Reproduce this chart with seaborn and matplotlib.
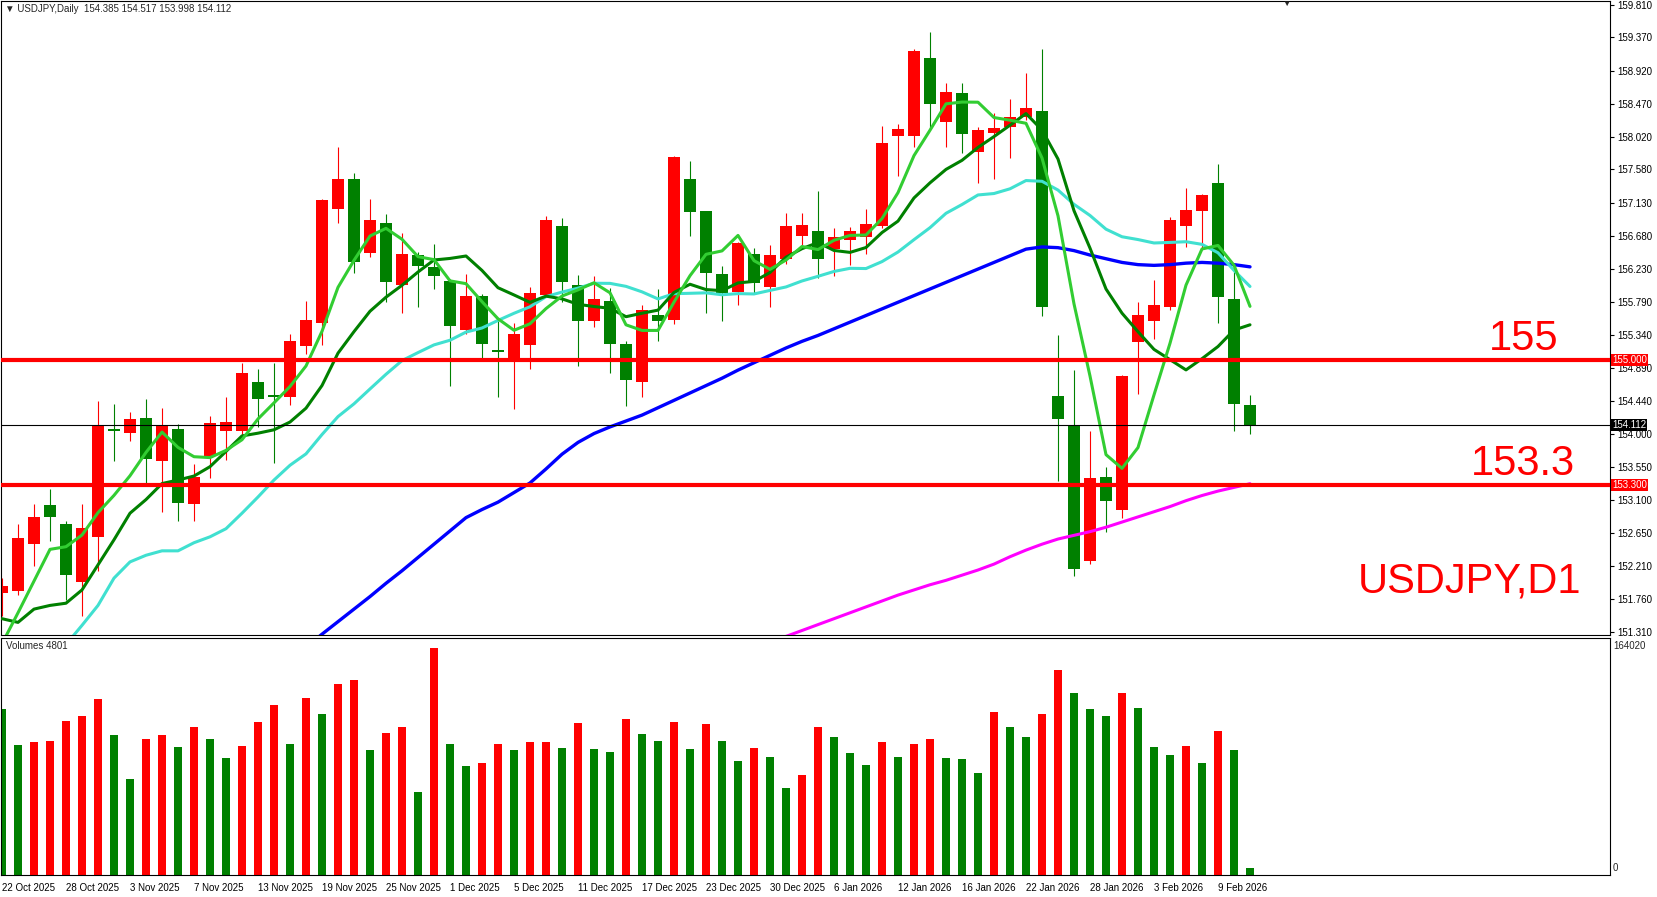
import numpy as np
import pandas as pd
import matplotlib
matplotlib.use("Agg")
import matplotlib.pyplot as plt
import matplotlib.transforms as mtransforms
import seaborn as sns

# USDJPY daily bars, 22 Oct 2025 .. 11 Feb 2026
opens = [151.84, 151.87, 152.50, 153.03, 152.78, 151.99, 152.60, 154.06, 154.01, 154.21,
         153.63, 154.06, 153.05, 153.70, 154.04, 154.03, 154.70, 154.52, 154.49, 155.19,
         155.50, 157.04, 157.45, 156.45, 156.85, 156.01, 156.42, 156.26, 156.07, 155.40,
         155.86, 155.13, 155.02, 155.20, 155.88, 156.81, 156.01, 155.52, 155.80, 155.22,
         154.70, 155.61, 155.54, 157.45, 157.02, 156.16, 155.92, 156.44, 155.99, 156.36,
         156.68, 156.75, 156.50, 156.62, 156.66, 156.81, 158.03, 158.04, 159.09, 158.22,
         158.62, 157.82, 158.08, 158.16, 158.29, 158.37, 154.51, 154.12, 152.27, 153.41,
         152.97, 155.24, 155.53, 155.72, 156.81, 157.02, 157.39, 155.83, 154.385]
highs = [152.04, 152.78, 153.05, 153.25, 152.81, 153.05, 154.44, 154.40, 154.29, 154.47,
         154.35, 154.13, 153.59, 154.24, 154.49, 154.96, 154.88, 154.96, 155.35, 155.80,
         157.18, 157.89, 157.53, 157.18, 156.98, 156.72, 156.46, 156.57, 156.10, 156.16,
         155.89, 155.54, 155.50, 155.98, 156.95, 156.92, 156.15, 156.13, 155.97, 155.25,
         155.74, 155.96, 157.76, 157.70, 157.02, 156.27, 156.60, 156.51, 156.56, 156.99,
         156.99, 157.29, 156.78, 156.80, 157.05, 158.17, 158.20, 159.22, 159.45, 158.75,
         158.75, 158.15, 158.35, 158.53, 158.89, 159.22, 155.33, 154.86, 154.04, 153.54,
         154.79, 155.78, 156.08, 156.94, 157.33, 157.25, 157.66, 156.22, 154.517]
lows = [151.52, 151.81, 152.20, 152.54, 151.74, 151.52, 152.14, 153.63, 153.90, 153.33,
        152.94, 152.82, 152.81, 153.40, 153.64, 153.95, 154.09, 153.60, 154.39, 155.08,
        155.20, 156.86, 156.18, 156.40, 155.79, 155.64, 155.71, 155.96, 154.65, 155.35,
        155.02, 154.49, 154.33, 154.88, 155.85, 155.79, 154.92, 155.44, 154.82, 154.38,
        154.50, 155.26, 155.49, 156.68, 155.64, 155.53, 155.74, 155.90, 155.72, 156.30,
        156.55, 156.11, 156.14, 156.28, 156.44, 156.78, 157.49, 157.89, 158.14, 157.89,
        157.81, 157.40, 157.45, 157.73, 158.25, 155.60, 153.35, 152.07, 152.23, 152.67,
        152.85, 154.54, 155.28, 155.68, 156.53, 156.52, 155.50, 154.04, 153.998]
closes = [151.93, 152.58, 152.87, 152.87, 152.08, 152.72, 154.10, 154.04, 154.20, 153.66,
          154.10, 153.06, 153.41, 154.14, 154.15, 154.82, 154.47, 154.50, 155.25, 155.54,
          157.17, 157.45, 156.33, 156.90, 156.06, 156.43, 156.27, 156.13, 155.46, 155.87,
          155.21, 155.11, 155.35, 155.90, 156.90, 156.06, 155.53, 155.83, 155.22, 154.73,
          155.68, 155.53, 157.75, 157.01, 156.18, 155.91, 156.58, 156.04, 156.42, 156.81,
          156.83, 156.37, 156.67, 156.75, 156.84, 157.94, 158.13, 159.18, 158.47, 158.63,
          158.06, 158.12, 158.14, 158.29, 158.42, 155.71, 154.20, 152.17, 153.40, 153.09,
          154.78, 155.61, 155.74, 156.90, 157.03, 157.23, 155.85, 154.40, 154.112]
volumes = [114800, 90200, 91700, 92400, 106600, 110300, 121500, 96900, 66400, 93900,
           96900, 88700, 102100, 93900, 81300, 89500, 105900, 117800, 91000, 122300,
           111100, 132000, 134900, 86500, 98400, 102100, 57400, 157300, 91000, 75300,
           77500, 91000, 86500, 91700, 91800, 88000, 105100, 87200, 85000, 108100,
           97700, 92400, 105900, 87200, 104400, 92400, 79000, 88000, 82000, 60400,
           69300, 102100, 95400, 84200, 76000, 91700, 82000, 91000, 93900, 81300,
           80500, 70800, 112600, 102100, 95400, 111100, 141600, 126000, 114800, 110300,
           126000, 115600, 88700, 82800, 89500, 77500, 99900, 86500, 4801]

# moving averages: the first bars lean on history left of the chart
ma5_head = [151.15, 151.57, 152.00, 152.43]
ma10_head = [151.49, 151.44, 151.62, 151.67, 151.70, 151.88, 152.22, 152.56, 152.92]
ma20_head = [np.nan, np.nan, np.nan, np.nan, 151.14, 151.40, 151.67, 152.04, 152.26, 152.35,
             152.41, 152.41, 152.52, 152.60, 152.71, 152.92, 153.14, 153.37, 153.57]
ma50_vals = [np.nan] * 19 + [
    151.10, 151.28, 151.45, 151.62, 151.79, 151.97, 152.14, 152.32, 152.50, 152.68,
    152.86, 152.97, 153.07, 153.20, 153.33, 153.52, 153.72, 153.88, 154.00, 154.09,
    154.17, 154.25, 154.35, 154.45, 154.55, 154.65, 154.75, 154.86, 154.96, 155.06,
    155.16, 155.25, 155.33, 155.42, 155.51, 155.60, 155.69, 155.78, 155.87, 155.96,
    156.05, 156.14, 156.23, 156.32, 156.41, 156.50, 156.53, 156.52, 156.48, 156.42,
    156.37, 156.32, 156.29, 156.28, 156.29, 156.31, 156.32, 156.31, 156.29, 156.26]
ma100_vals = [np.nan] * 49 + [
    151.25, 151.33, 151.41, 151.49, 151.57, 151.65, 151.73, 151.81, 151.88, 151.95,
    152.01, 152.08, 152.15, 152.23, 152.33, 152.42, 152.50, 152.57, 152.62, 152.67,
    152.73, 152.80, 152.87, 152.94, 153.01, 153.09, 153.16, 153.22, 153.27, 153.32]

price_ticks = [159.810, 159.370, 158.920, 158.470, 158.020, 157.580, 157.130, 156.680,
               156.230, 155.790, 155.340, 154.890, 154.440, 154.000, 153.550, 153.100,
               152.650, 152.210, 151.760, 151.310]
date_tick_bars = list(range(0, 77, 4))
date_tick_labels = ["22 Oct 2025", "28 Oct 2025", "3 Nov 2025", "7 Nov 2025", "13 Nov 2025",
                    "19 Nov 2025", "25 Nov 2025", "1 Dec 2025", "5 Dec 2025", "11 Dec 2025",
                    "17 Dec 2025", "23 Dec 2025", "30 Dec 2025", "6 Jan 2026", "12 Jan 2026",
                    "16 Jan 2026", "22 Jan 2026", "28 Jan 2026", "3 Feb 2026", "9 Feb 2026"]
levels = [155.0, 153.3]
last_price = 154.112
vol_max = 164020

RED = "#FF0000"
GREEN = "#008000"

sns.set_style("white")
plt.rcParams["font.family"] = ["Liberation Sans", "DejaVu Sans"]

W, H = 1657, 897
fig = plt.figure(figsize=(W / 100, H / 100), dpi=100)
ax = fig.add_axes([1 / W, 1 - 635 / H, 1609 / W, 634 / H])
axv = fig.add_axes([1 / W, 1 - 875 / H, 1609 / W, 237 / H])

n = len(closes)
df = pd.DataFrame({"bar": np.arange(n), "open": opens, "high": highs,
                   "low": lows, "close": closes, "volume": volumes})
# this terminal paints rising candles red and falling ones green
df["col"] = np.where(df.close >= df.open, RED, GREEN)

ax.vlines(df.bar, df.low, df.high, colors=df.col, lw=0.8, zorder=2)
body_lo = np.minimum(df.open, df.close)
body_h = np.maximum((df.close - df.open).abs(), 0.014)
ax.bar(df.bar, body_h, bottom=body_lo, width=0.69, color=df.col, linewidth=0, zorder=2)

ma5 = df.close.rolling(5).mean().to_numpy()
ma5[:4] = ma5_head
ma10 = df.close.rolling(10).mean().to_numpy()
ma10[:9] = ma10_head
ma20 = df.close.rolling(20).mean().to_numpy()
ma20[:19] = ma20_head

mas = [(ma100_vals, "#FF00FF", 2.2), (ma50_vals, "#0000FF", 2.4),
       (ma20, "#40E0D0", 2.2), (ma10, "#008000", 2.2), (ma5, "#32CD32", 2.2)]
for vals, colr, lw in mas:
    sns.lineplot(x=df.bar, y=vals, color=colr, lw=lw, ax=ax, estimator=None,
                 legend=False, zorder=3)

for lv in levels:
    ax.axhline(lv, color=RED, lw=3.0, zorder=5)
ax.axhline(last_price, color="black", lw=0.8, zorder=4)

ax.set_xlim(-0.0625, 100.5)
ax.set_ylim(151.269, 159.864)
ax.set_xticks([])
ax.set_xlabel("")
ax.set_ylabel("")
ax.yaxis.tick_right()
ax.set_yticks(price_ticks)
ax.set_yticklabels([f"{t:.3f}" for t in price_ticks])
ax.tick_params(axis="y", labelsize=7, length=3, width=0.8, pad=2, direction="out", colors="black")

tr = mtransforms.blended_transform_factory(ax.transAxes, ax.transData)
for lv in levels:
    ax.text(1.0012, lv, f"{lv:.3f}", transform=tr, ha="left", va="center", fontsize=7,
            color="white", zorder=6, bbox=dict(boxstyle="square,pad=0.12", fc=RED, ec="none"))
ax.text(1.0012, last_price, f"{last_price:.3f}", transform=tr, ha="left", va="center",
        fontsize=7, color="white", zorder=6,
        bbox=dict(boxstyle="square,pad=0.12", fc="black", ec="none"))

# volumes: red when the volume grew against the previous bar
vcol = [GREEN] + [RED if volumes[k] > volumes[k - 1] else GREEN for k in range(1, n)]
axv.bar(df.bar, df.volume, width=0.56, color=vcol, linewidth=0)
axv.set_xlim(-0.0625, 100.5)
axv.set_ylim(0, vol_max)
axv.set_yticks([])
axv.set_ylabel("")
axv.set_xticks(date_tick_bars)
axv.set_xticklabels(date_tick_labels, fontsize=7, ha="left")
axv.tick_params(axis="x", length=4, width=0.8, pad=1.5, direction="out", colors="black")

for a in (ax, axv):
    for s in a.spines.values():
        s.set_color("black")
        s.set_linewidth(0.8)

fig.text(1613 / W, 1 - 646 / H, f"{vol_max}", fontsize=7, va="center", ha="left")
fig.text(1613 / W, 1 - 868 / H, "0", fontsize=7, va="center", ha="left")
fig.text(5 / W, 1 - 9 / H, "\u25bc USDJPY,Daily  154.385 154.517 153.998 154.112",
         fontsize=7, va="center", ha="left")
fig.text(6 / W, 1 - 646 / H, f"Volumes {volumes[-1]}", fontsize=7, va="center", ha="left")
fig.text(1286 / W, 1 - 1 / H, "\u25bc", fontsize=6, va="top", ha="center")

big = dict(color=RED, fontsize=30, family="Liberation Sans", va="baseline", ha="left")
fig.text(1489 / W, 1 - 350 / H, "155", **big)
fig.text(1471 / W, 1 - 475 / H, "153.3", **big)
fig.text(1358 / W, 1 - 592 / H, "USDJPY,D1", **big)

fig.savefig("out.png", dpi=100, facecolor="white")
